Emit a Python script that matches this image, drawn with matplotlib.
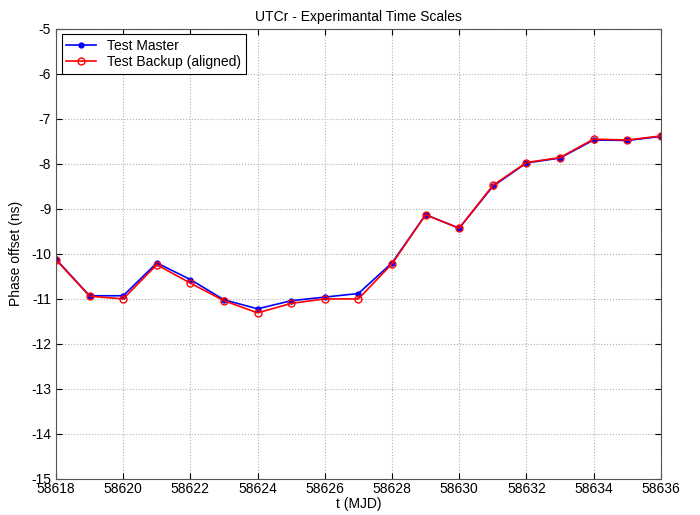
import numpy as np
import matplotlib
matplotlib.use('Agg')
from matplotlib import pyplot as plt

plt.rcParams['font.family'] = ['Liberation Sans', 'DejaVu Sans']
plt.rcParams['axes.unicode_minus'] = False

# MJD days
mjd = [58618, 58619, 58620, 58621, 58622, 58623, 58624, 58625, 58626,
       58627, 58628, 58629, 58630, 58631, 58632, 58633, 58634, 58635, 58636]
# phase offsets (ns)
master = [-10.12, -10.93, -10.93, -10.20, -10.57, -11.02, -11.22, -11.04, -10.96,
          -10.88, -10.20, -9.13, -9.43, -8.50, -7.98, -7.87, -7.47, -7.48, -7.39]
backup = [-10.13, -10.94, -11.00, -10.24, -10.65, -11.04, -11.31, -11.10, -11.00,
          -11.00, -10.22, -9.13, -9.43, -8.48, -7.97, -7.86, -7.45, -7.47, -7.38]

fig = plt.figure(figsize=(7, 5.15), dpi=100)
ax = fig.add_axes([0.08, 0.07, 0.864, 0.874])

ax.plot(mjd, master, 'b.-', markersize=7, linewidth=1.2, label='Test Master')
ax.plot(mjd, backup, 'r-o', markersize=5, markerfacecolor='none', linewidth=1.2,
        label='Test Backup (aligned)')

ax.set_xlim(58618, 58636)
ax.set_ylim(-15, -5)
ax.set_xticks(np.arange(58618, 58637, 2))
ax.set_yticks(np.arange(-15, -4, 1))
ax.get_xaxis().get_major_formatter().set_useOffset(False)
ax.grid(True, linestyle=':', color='#b0b0b0', linewidth=0.8)
ax.tick_params(direction='in', top=True, right=True, labelsize=10, length=4)
ax.tick_params(axis='x', pad=2)
for s in ax.spines.values():
    s.set_color('#555555')

ax.set_title('UTCr - Experimantal Time Scales', fontsize=10)
ax.set_xlabel('t (MJD)', fontsize=10, labelpad=1)
ax.set_ylabel('Phase offset (ns)', fontsize=10, labelpad=6)

leg = ax.legend(loc='upper left', fontsize=10, fancybox=False, framealpha=1,
                edgecolor='black', borderpad=0.3, labelspacing=0.2,
                handlelength=2.2, borderaxespad=0.4)
leg.get_frame().set_linewidth(0.8)

plt.savefig('out.png')
